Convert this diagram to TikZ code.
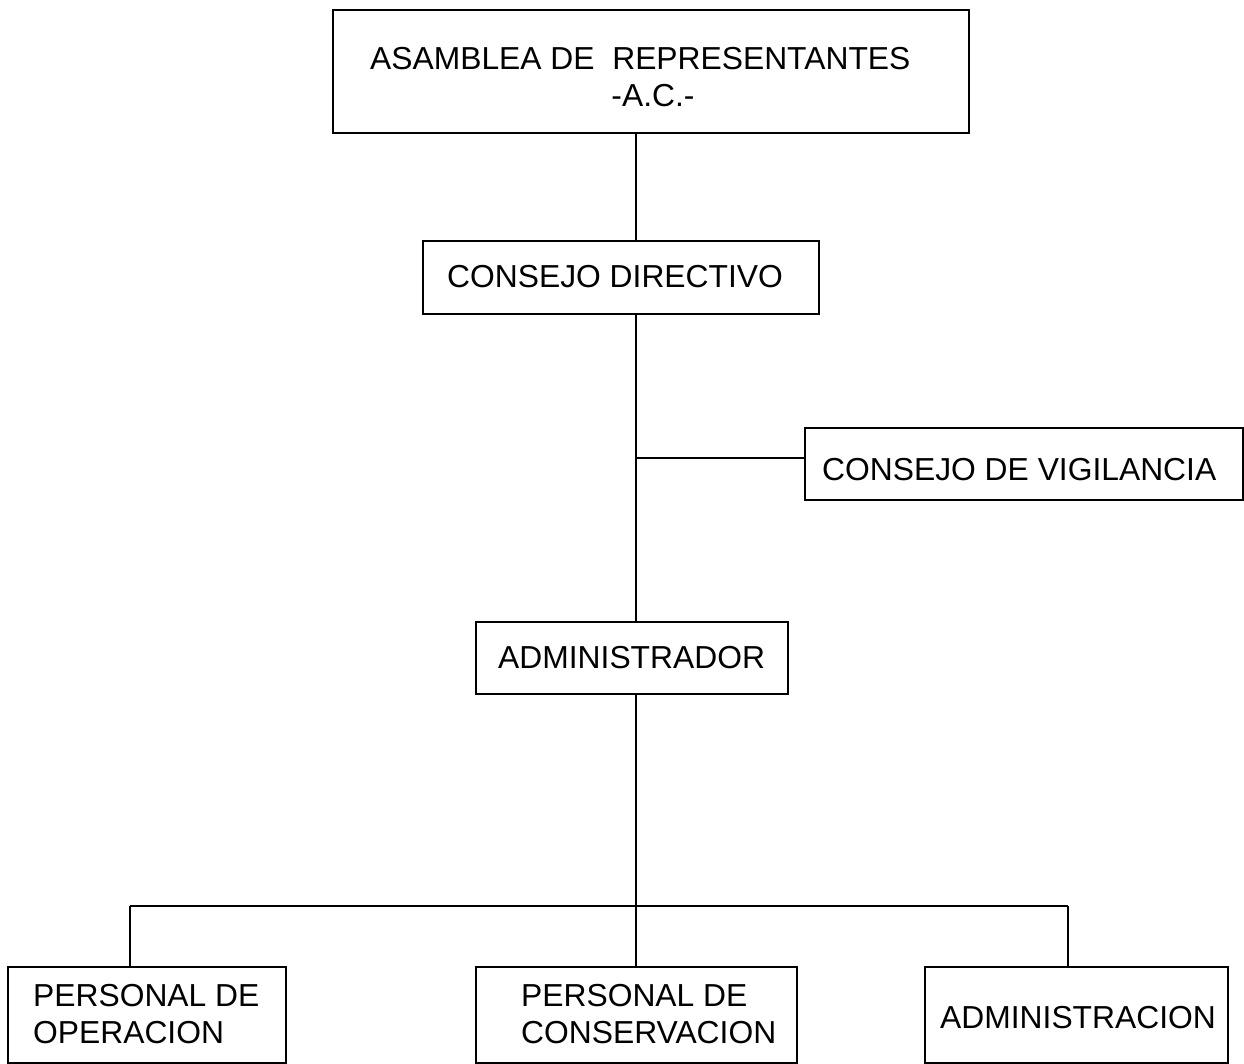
\documentclass[tikz,border=0pt]{standalone}
\usepackage{fontspec}
\setmainfont{Liberation Sans}
\begin{document}
\begin{tikzpicture}[x=1pt,y=-1pt,
  box/.style={draw=black,line width=1.6pt,rectangle,inner sep=0pt},
  lbl/.style={inner sep=0pt,font=\fontsize{31.8}{37}\selectfont},
  conn/.style={draw=black,line width=1.6pt}]
\useasboundingbox[fill=white] (0,0) rectangle (1244,1064);
% boxes
\node[box,minimum width=636pt,minimum height=123pt] (asam) at (651,71.5) {};
\node[box,minimum width=396pt,minimum height=73pt] (cdir) at (621,277.5) {};
\node[box,minimum width=438pt,minimum height=72pt] (cvig) at (1024,464) {};
\node[box,minimum width=312pt,minimum height=72pt] (adm) at (632,658) {};
\node[box,minimum width=278pt,minimum height=96pt] (pop) at (147,1015) {};
\node[box,minimum width=321pt,minimum height=96pt] (pcon) at (636.5,1015) {};
\node[box,minimum width=303pt,minimum height=96pt] (admn) at (1076.5,1015) {};
% texts
\node[lbl,anchor=west] (t1) at (370,59) {ASAMBLEA DE\ \ REPRESENTANTES};
\node[lbl] (t2) at (653,96) {-A.C.-};
\node[lbl,anchor=west] (t3) at (447,277) {CONSEJO DIRECTIVO};
\node[lbl,anchor=west] (t4) at (822,470) {CONSEJO DE VIGILANCIA};
\node[lbl,anchor=west] (t5) at (498,658) {ADMINISTRADOR};
\node[lbl,anchor=west] (t6) at (33,996) {PERSONAL DE};
\node[lbl,anchor=west] (t7) at (33,1033) {OPERACION};
\node[lbl,anchor=west] (t8) at (521,996) {PERSONAL DE};
\node[lbl,anchor=west] (t9) at (521,1033) {CONSERVACION};
\node[lbl,anchor=west] (t10) at (940,1018) {ADMINISTRACION};
% connectors
\coordinate (jv) at (636,458);
\coordinate (jb) at (636,906);
\coordinate (jl) at (130,906);
\coordinate (jr) at (1068,906);
\draw[conn] (asam.south -| jv) -- (cdir.north -| jv);
\draw[conn] (cdir.south -| jv) -- (adm.north -| jv);
\draw[conn] (jv) -- (jv -| cvig.west);
\draw[conn] (adm.south -| jv) -- (pcon.north -| jv);
\draw[conn] (jl) -- (jr);
\draw[conn] (jl) -- (jl |- pop.north);
\draw[conn] (jr) -- (jr |- admn.north);
\end{tikzpicture}
\end{document}
